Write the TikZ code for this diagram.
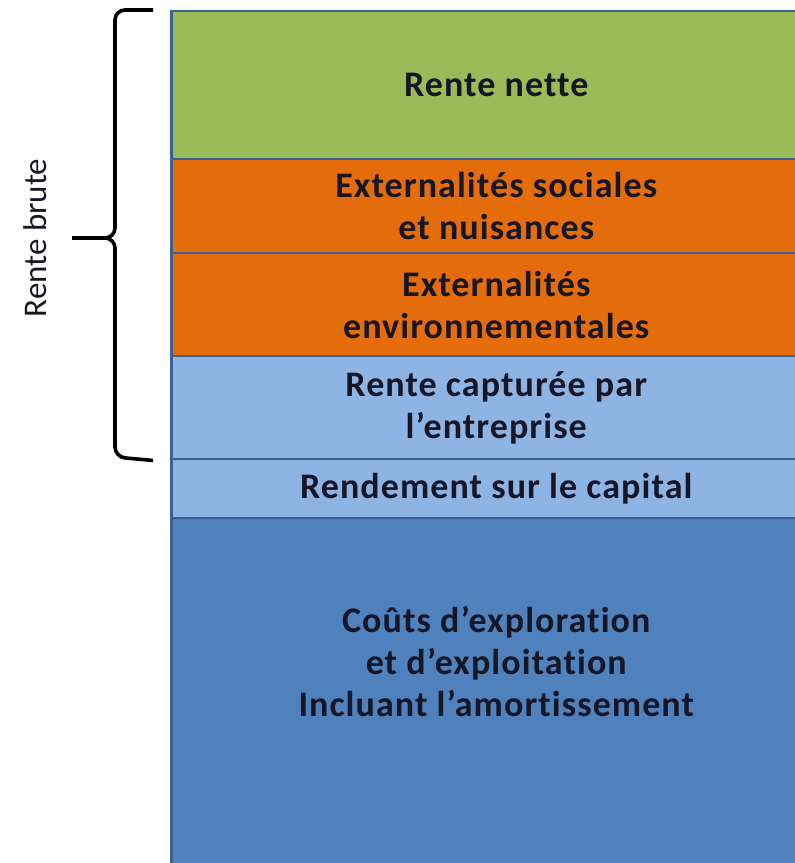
\documentclass[tikz,border=0pt]{standalone}
\usepackage{fontspec}
\setmainfont{Carlito}[Ligatures=NoCommon]
\newfontfamily\bandfont{Carlito}[Ligatures=NoCommon, LetterSpace=3]
\usetikzlibrary{positioning}

\definecolor{netgreen}{RGB}{155,187,89}
\definecolor{extorange}{RGB}{228,108,10}
\definecolor{lightblue}{RGB}{142,180,227}
\definecolor{darkblue}{RGB}{79,129,189}
\definecolor{bandline}{RGB}{60,96,146}
\definecolor{textdark}{RGB}{22,22,38}

\begin{document}
\begin{tikzpicture}[
    x=1pt, y=1pt,
    node distance=-2.5pt,
    band/.style={rectangle, draw=bandline, line width=2.5pt, minimum width=650pt,
        inner sep=0pt, align=center, text=textdark,
        font=\bandfont\bfseries\fontsize{36}{42}\selectfont},
    brace/.style={line width=3.6pt, black, rounded corners=10pt},
    label/.style={font=\fontsize{33}{38}\selectfont, text=textdark}
]
\clip (0,0) rectangle (795,863);

% Stacked bands
\node[band, fill=netgreen, minimum height=148pt, anchor=north west] (net) at (170,853) {Rente nette};
\node[band, fill=extorange, minimum height=94pt, below=of net] (soc) {Externalités sociales\\ et nuisances};
\node[band, fill=extorange, minimum height=103pt, below=of soc] (env) {Externalités\\ environnementales};
\node[band, fill=lightblue, minimum height=103pt, below=of env] (firm) {Rente capturée par\\ l’entreprise};
\node[band, fill=lightblue, minimum height=59pt, below=of firm] (cap) {Rendement sur le capital};
\node[band, fill=darkblue, minimum height=346pt, below=of cap] (cost) {};
\node[band, draw=none, anchor=center] (costtxt) at ([yshift=30pt]cost.center)
    {Coûts d’exploration\\ et d’exploitation\\ Incluant l’amortissement};

% Brace for the gross rent
\coordinate (btop) at ([xshift=-17pt]net.north west);
\coordinate (bbot) at ([xshift=-17pt]firm.south west);
\coordinate (btip) at (72,625);
\draw[brace] (btop) -- (115,853) -- (115,625) -- (btip);
\draw[brace] (btip) -- (115,625) -- (115,406) -- (bbot);
\node[label, rotate=90] (brute) at (35,625) {Rente brute};

\end{tikzpicture}
\end{document}
